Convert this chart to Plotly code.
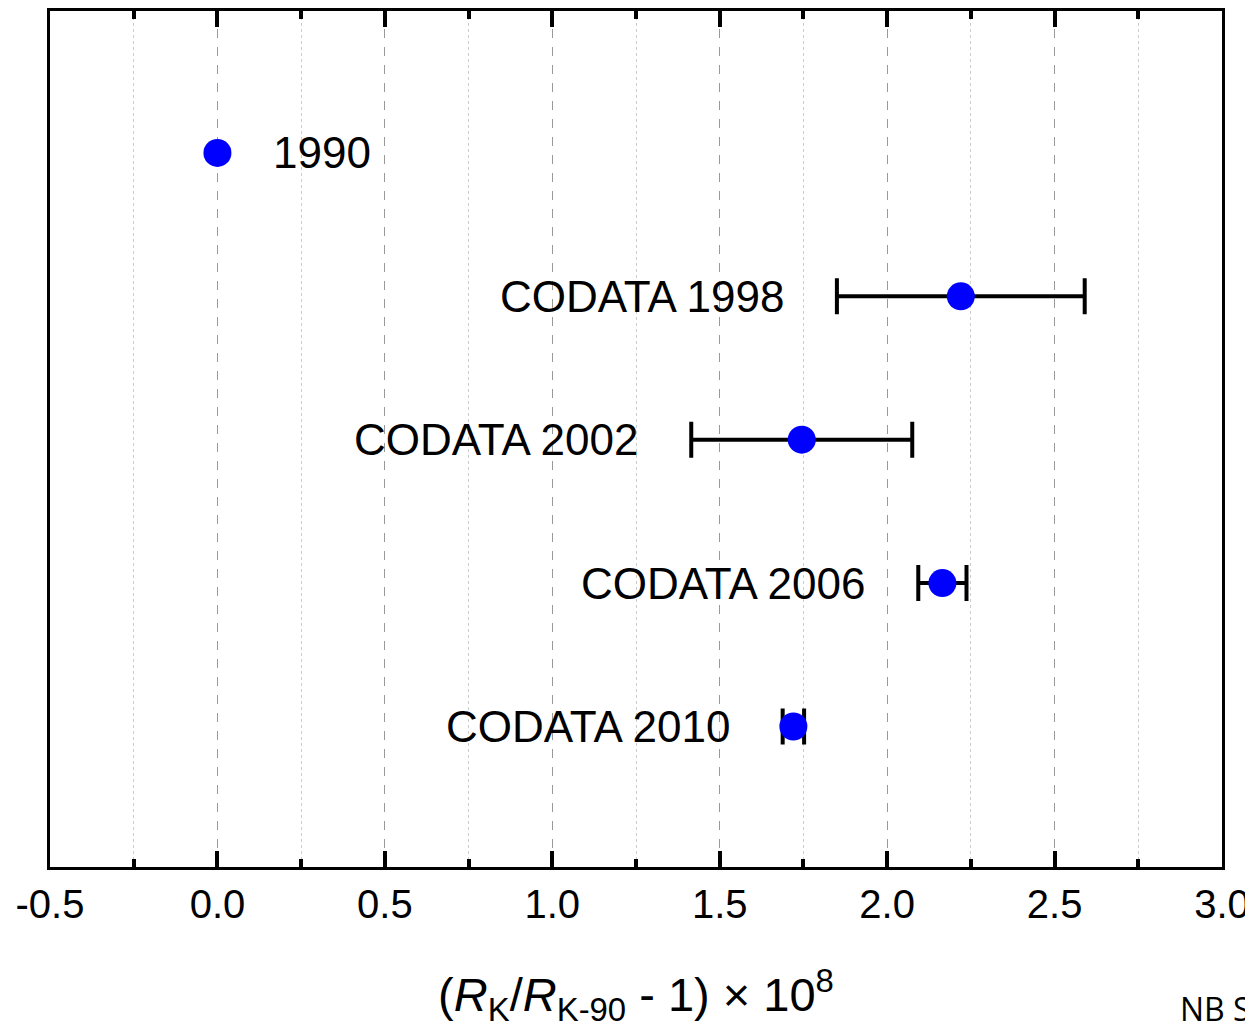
import plotly.graph_objects as go

labels = ["1990", "CODATA 1998", "CODATA 2002", "CODATA 2006", "CODATA 2010"]
values = [0.0, 2.22, 1.745, 2.165, 1.72]
errors = [0.0, 0.37, 0.33, 0.072, 0.032]
rows = [5, 4, 3, 2, 1]

# page body has an 8px default margin; compensate so the plot sits where the reference's does
W, H = 1253, 1030
OFF = 8

fig = go.Figure()
# CODATA values with uncertainties
fig.add_trace(go.Scatter(
    x=values[1:], y=rows[1:], mode="markers",
    marker=dict(size=28, color="#0000ff", line=dict(width=0)),
    error_x=dict(type="data", array=errors[1:], visible=True, color="black",
                 thickness=4, width=18),
    showlegend=False, hoverinfo="skip",
))
# 1990 reference value (no uncertainty)
fig.add_trace(go.Scatter(
    x=values[:1], y=rows[:1], mode="markers",
    marker=dict(size=28, color="#0000ff", line=dict(width=0)),
    showlegend=False, hoverinfo="skip",
))

font_main = "Liberation Sans, Arial, sans-serif"
for lab, v, e, r in zip(labels, values, errors, rows):
    if e == 0:
        fig.add_annotation(x=v, y=r, text=lab, showarrow=False, xanchor="left",
                           yanchor="middle", xshift=54, font=dict(size=44, color="black", family=font_main))
    else:
        fig.add_annotation(x=v - e, y=r, text=lab, showarrow=False, xanchor="right",
                           yanchor="middle", xshift=-50, font=dict(size=44, color="black", family=font_main))

l, r_, t, b = 50 - OFF, 31, 0, 163
pw = (W - OFF) - l - r_
ph = (H - OFF) - t - b
fig.add_annotation(xref="paper", yref="paper", x=(1178 - 50) / pw, y=-(1030 - 867) / ph,
                   xanchor="left", yanchor="bottom", yshift=-3, text="NB S", showarrow=False,
                   font=dict(size=32, color="black", family="Open Sans, Noto Sans, sans-serif"))

fig.update_layout(
    width=W - OFF, height=H - OFF,
    margin=dict(l=l, r=r_, t=t, b=b, pad=0),
    paper_bgcolor="white", plot_bgcolor="white",
    font=dict(family=font_main, color="black"),
)
fig.update_xaxes(
    range=[-0.5, 3.0], tickvals=[-0.5, 0, 0.5, 1, 1.5, 2, 2.5, 3.0],
    ticktext=["-0.5", "0.0", "0.5", "1.0", "1.5", "2.0", "2.5", "3.0"],
    tickfont=dict(size=40),
    ticks="inside", ticklen=16, tickwidth=3.5, tickcolor="black",
    showline=True, linewidth=3, linecolor="black", mirror="ticks",
    showgrid=True, gridcolor="#999999", griddash="dash", gridwidth=1.3,
    zeroline=False,
    minor=dict(tickvals=[-0.25, 0.25, 0.75, 1.25, 1.75, 2.25, 2.75], ticks="inside", ticklen=8, tickwidth=3.5,
               tickcolor="black", showgrid=True, gridcolor="#cccccc", griddash="dot", gridwidth=1.3),
    title=dict(text="(<i>R</i><sub>K</sub>/<i>R</i><sub>K-90</sub> - 1) × 10<sup>8</sup>",
               font=dict(size=47), standoff=54),
)
fig.update_yaxes(
    range=[0.02, 5.99], showticklabels=False, ticks="", showgrid=False, zeroline=False,
    showline=True, linewidth=3, linecolor="black", mirror=True,
)
fig.write_html("out.html")
